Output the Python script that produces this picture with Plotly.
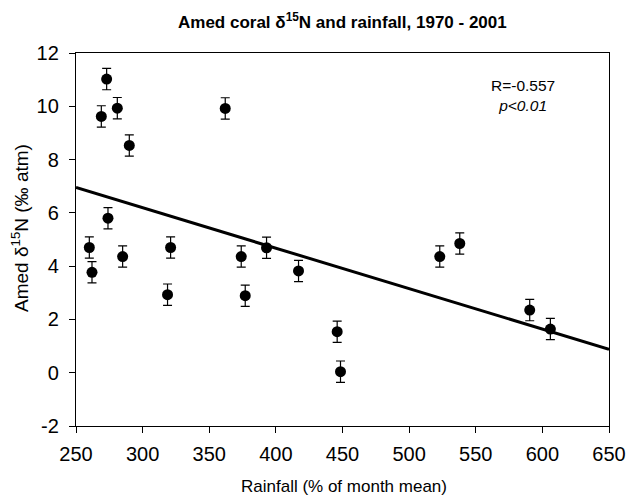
import plotly.graph_objects as go

rainfall = [260, 262, 269, 273, 274, 281, 285, 290, 318.7, 321, 362, 374, 377, 393, 417, 446, 448.5, 523, 538, 590.5, 606]
d15n = [4.7, 3.77, 9.62, 11.02, 5.8, 9.93, 4.36, 8.53, 2.93, 4.7, 9.92, 4.36, 2.89, 4.69, 3.82, 1.54, 0.04, 4.36, 4.85, 2.35, 1.64]
err = [0.4] * len(rainfall)

trend_x = [250, 650]
trend_y = [6.95, 0.88]

x_ticks = [250, 300, 350, 400, 450, 500, 550, 600, 650]
y_ticks = [-2, 0, 2, 4, 6, 8, 10, 12]
y_tick_labels = ["-2", "0", "2", "4", "6", "8", "10", "12"]

FONT = "Liberation Sans, Arial, sans-serif"

W, H = 629, 496
PL, PR, PT, PB = 76, 609, 53, 426  # plot box edges in page pixels


def px(sx):
    return (sx - PL) / (PR - PL)


def py(sy):
    return (PB - sy) / (PB - PT)


fig = go.Figure()
fig.add_trace(go.Scatter(
    x=trend_x, y=trend_y, mode="lines",
    line=dict(color="black", width=3), showlegend=False, hoverinfo="skip"))
fig.add_trace(go.Scatter(
    x=rainfall, y=d15n, mode="markers",
    marker=dict(color="black", size=11),
    error_y=dict(type="data", array=err, visible=True, color="black", thickness=1.2, width=4.5),
    showlegend=False))

fig.update_layout(
    width=W, height=H,
    margin=dict(l=PL, r=W - PR, t=PT, b=H - PB, autoexpand=False),
    paper_bgcolor="white", plot_bgcolor="white",
    font=dict(family=FONT, color="black"),
    xaxis=dict(range=[250, 650], tickvals=x_ticks, ticks="outside", ticklen=6,
               tickcolor="black", showline=True, linecolor="black", linewidth=1.3,
               mirror=True, showgrid=False, zeroline=False, automargin=False,
               ticklabelstandoff=4,
               tickfont=dict(size=20, family=FONT)),
    yaxis=dict(range=[-2, 12], tickvals=y_ticks, ticktext=y_tick_labels,
               ticks="outside", ticklen=6,
               tickcolor="black", showline=True, linecolor="black", linewidth=1.3,
               mirror=True, showgrid=False, zeroline=False, automargin=False,
               ticklabelstandoff=6,
               tickfont=dict(size=20, family=FONT)),
    annotations=[
        dict(text="<b>Amed coral δ<sup>15</sup>N and rainfall, 1970 - 2001</b>",
             x=px(342), y=py(21), xref="paper", yref="paper",
             xanchor="center", yanchor="middle", showarrow=False,
             font=dict(size=17, family=FONT, color="black")),
        dict(text="Rainfall (% of month mean)",
             x=px(344), y=py(486), xref="paper", yref="paper",
             xanchor="center", yanchor="middle", showarrow=False,
             font=dict(size=17, family=FONT, color="black")),
        dict(text="Amed δ<sup>15</sup>N (‰ atm)", textangle=-90,
             x=px(20), y=py(228), xref="paper", yref="paper",
             xanchor="center", yanchor="middle", showarrow=False,
             font=dict(size=19, family=FONT, color="black")),
        dict(text="R=-0.557<br><i>p&lt;0.01</i>", x=px(522.5), y=py(96),
             xref="paper", yref="paper",
             showarrow=False, xanchor="center", yanchor="middle",
             font=dict(size=15.5, family=FONT, color="black")),
    ],
)

fig.write_html(
    "out.html",
    config={"displayModeBar": False},
    post_script="document.body.style.margin='0';document.body.style.overflow='hidden';",
)
